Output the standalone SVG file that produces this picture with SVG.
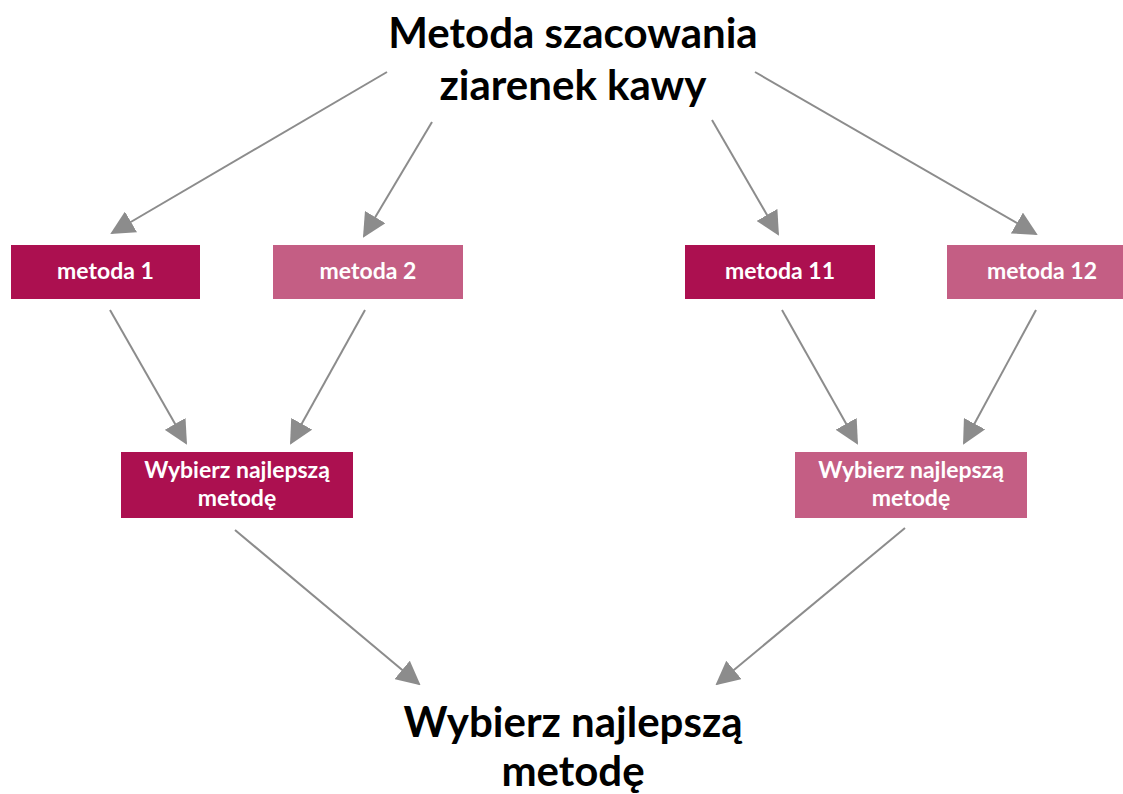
<svg xmlns="http://www.w3.org/2000/svg" width="1123" height="794" viewBox="0 0 1123 794">
<style>
.dark{fill:#AC1050}
.light{fill:#C45E84}
.lbl{font-family:Lato,"Open Sans",sans-serif;font-weight:bold;font-size:23px;fill:#fff;text-anchor:middle}
.big{font-family:Lato,"Open Sans",sans-serif;font-weight:bold;font-size:42px;fill:#000;text-anchor:middle}
.con line{stroke:#8C8C8C;stroke-width:2;marker-end:url(#ah)}
</style>
<defs>
<marker id="ah" markerUnits="userSpaceOnUse" markerWidth="24" markerHeight="24" refX="22" refY="12" orient="auto" viewBox="0 0 24 24">
<path d="M0,0 L24,12 L0,24 z" fill="#8C8C8C"/>
</marker>
</defs>
<rect width="1123" height="794" fill="#fff"/>
<g id="title"><text class="big" x="573" y="48">Metoda szacowania</text><text class="big" x="573" y="100">ziarenek kawy</text></g>
<g id="m1"><rect class="dark" x="11" y="245" width="189" height="54"/><text class="lbl" x="105.5" y="279">metoda 1</text></g>
<g id="m2"><rect class="light" x="273" y="245" width="190" height="54"/><text class="lbl" x="368" y="279">metoda 2</text></g>
<g id="m11"><rect class="dark" x="685" y="245" width="190" height="54"/><text class="lbl" x="780" y="279">metoda 11</text></g>
<g id="m12"><rect class="light" x="947" y="245" width="190" height="54"/><text class="lbl" x="1042" y="279">metoda 12</text></g>
<g id="wl"><rect class="dark" x="121" y="452" width="232" height="66"/><text class="lbl" x="237" y="478">Wybierz najlepszą</text><text class="lbl" x="237" y="506">metodę</text></g>
<g id="wr"><rect class="light" x="795" y="452" width="232" height="66"/><text class="lbl" x="911" y="478">Wybierz najlepszą</text><text class="lbl" x="911" y="506">metodę</text></g>
<g id="final"><text class="big" x="573" y="737">Wybierz najlepszą</text><text class="big" x="573" y="786">metodę</text></g>
<g class="con" id="connectors">
<line x1="387" y1="72" x2="112" y2="233"/>
<line x1="432" y1="122" x2="364" y2="236"/>
<line x1="712" y1="120" x2="778" y2="234"/>
<line x1="755" y1="72" x2="1036" y2="234"/>
<line x1="110" y1="310" x2="186" y2="443"/>
<line x1="365" y1="310" x2="291" y2="443"/>
<line x1="782" y1="310" x2="857" y2="443"/>
<line x1="1036" y1="310" x2="964" y2="443"/>
<line x1="235" y1="530" x2="419" y2="684"/>
<line x1="905" y1="528" x2="717" y2="684"/>
</g>
</svg>
